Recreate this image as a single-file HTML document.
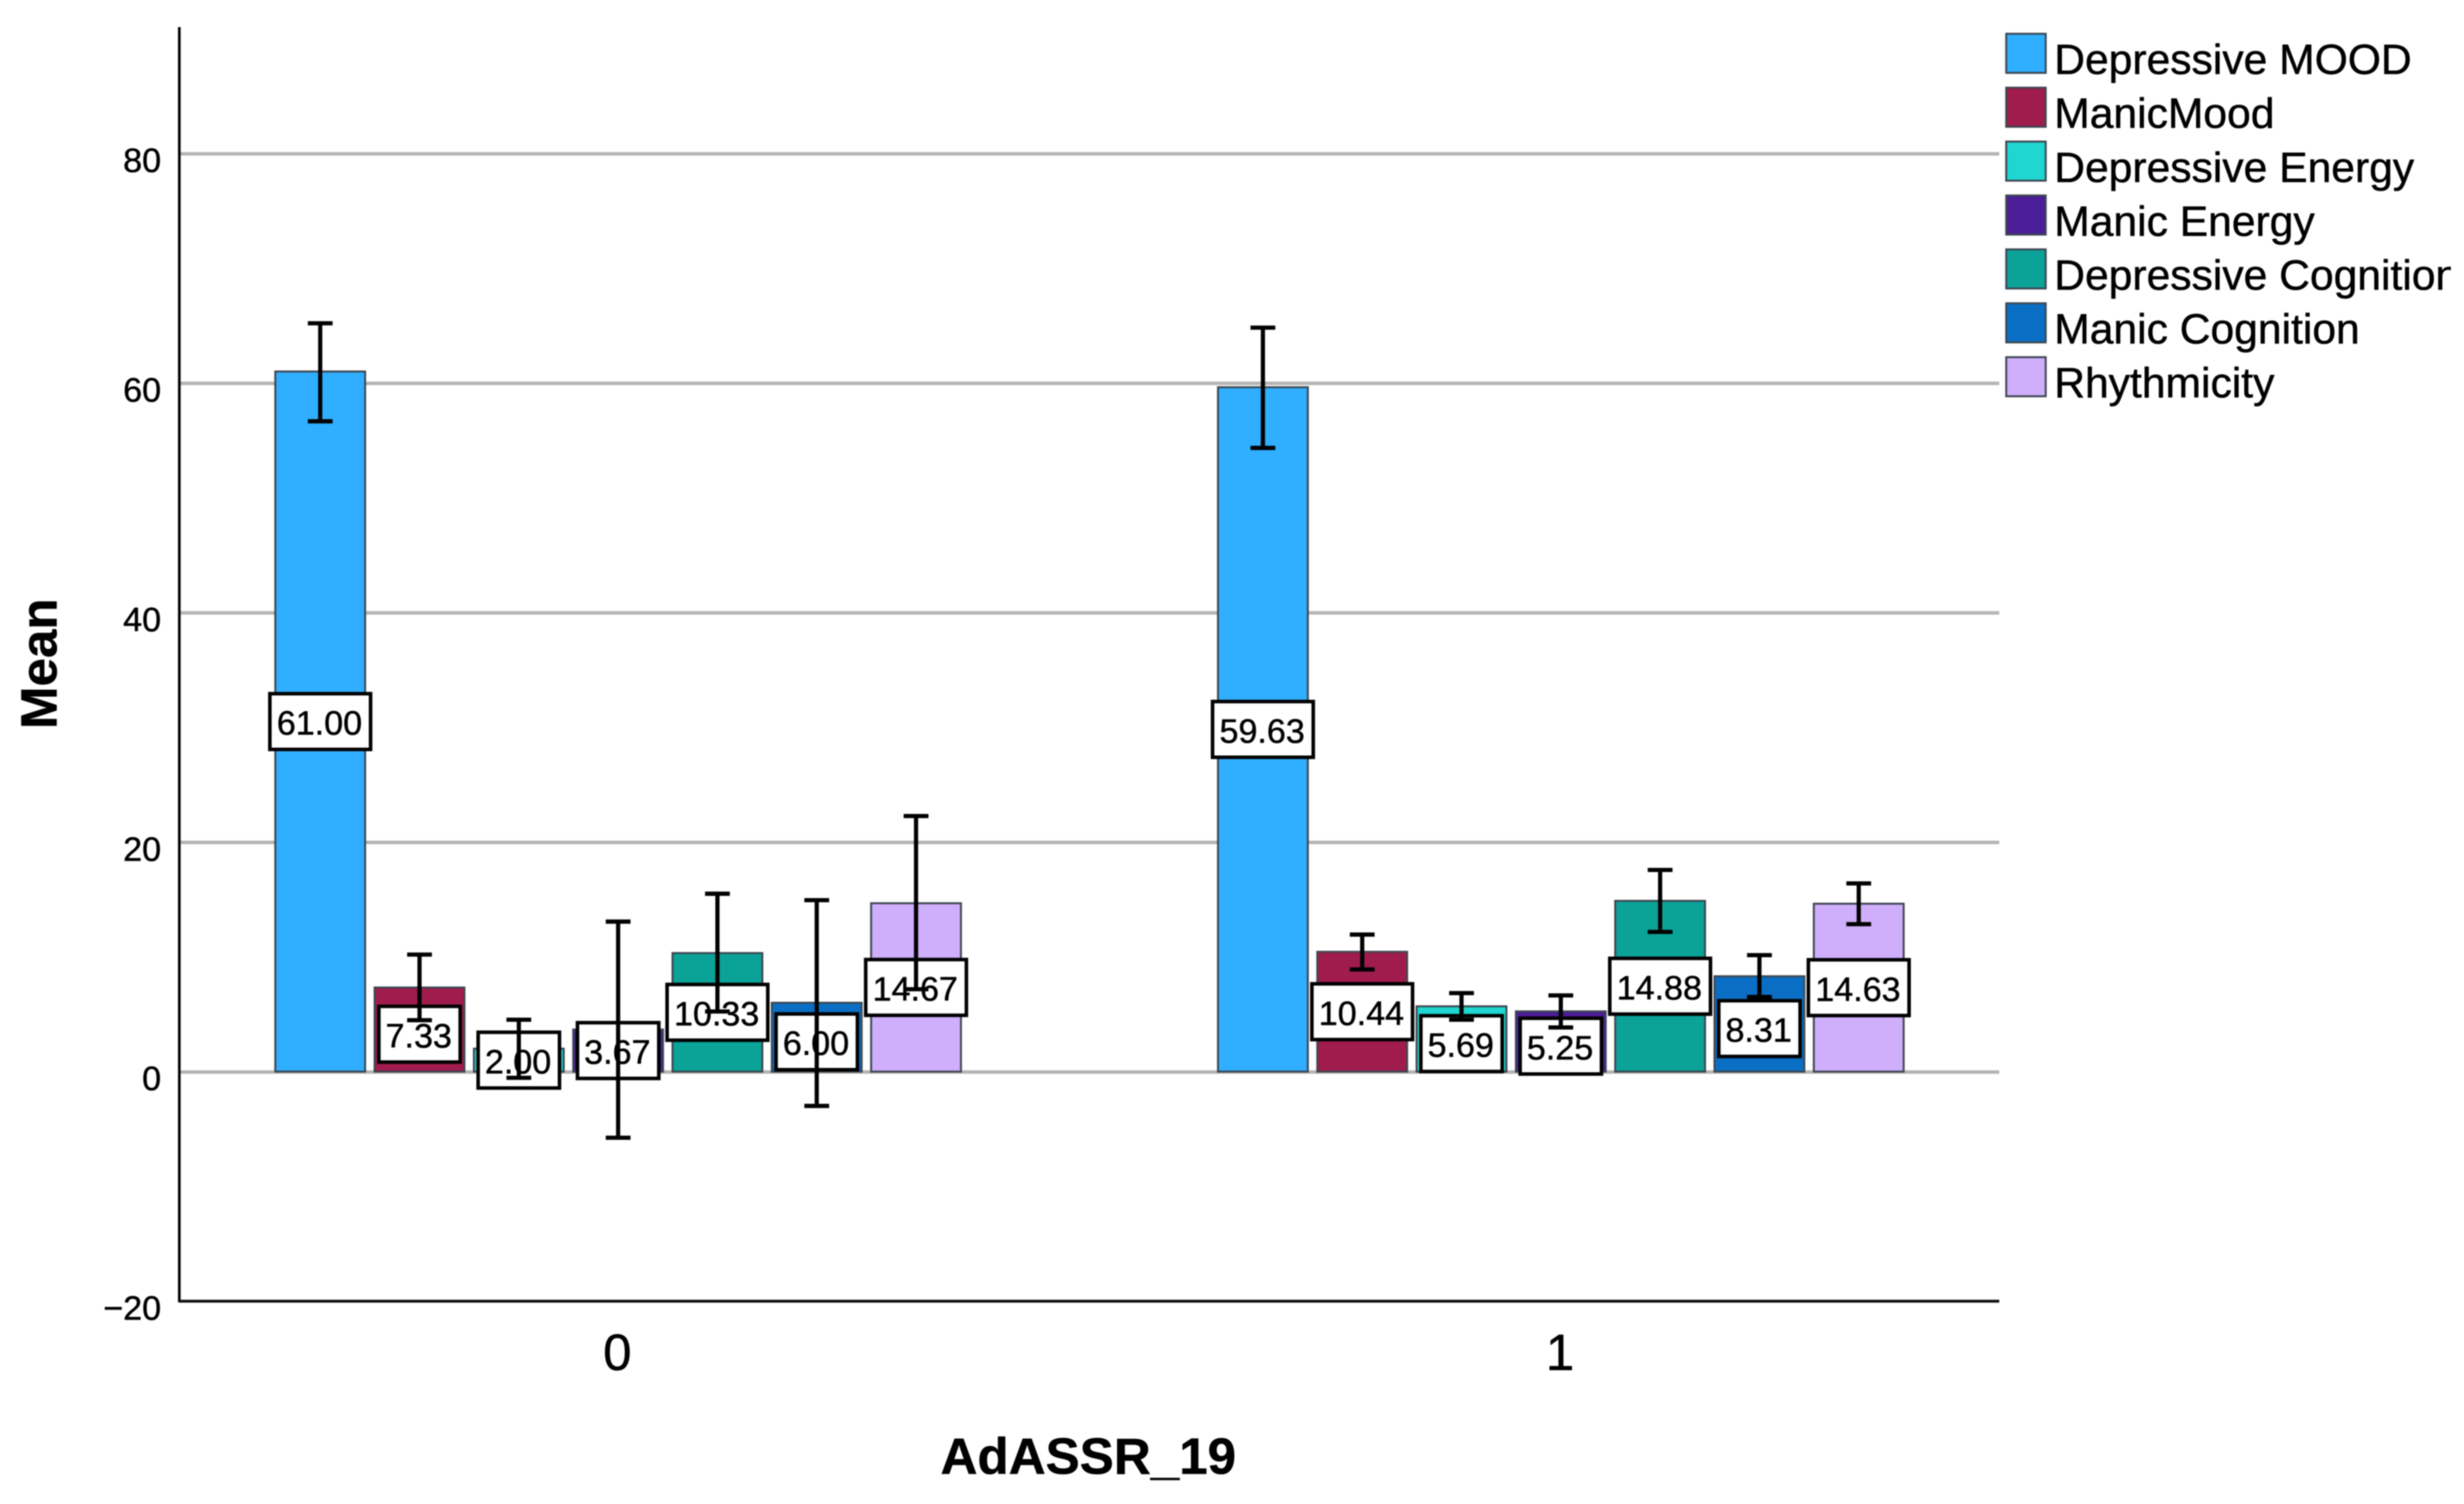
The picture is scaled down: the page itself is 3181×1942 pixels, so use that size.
<!DOCTYPE html>
<html lang="en">
<head>
<meta charset="utf-8">
<title>Mean by AdASSR_19</title>
<style>
html,body{margin:0;padding:0;background:#fff;}
svg{display:block;filter:blur(0.8px);font-family:"Liberation Sans",Arial,sans-serif;}
text{stroke:#000;stroke-width:0.6px;}
</style>
</head>
<body>
<svg id="chart" xmlns="http://www.w3.org/2000/svg" width="3181" height="1942" viewBox="0 0 3181 1942">
  <defs>
    <clipPath id="legend-clip"><rect x="2580" y="0" width="584" height="600"/></clipPath>
  </defs>
  <rect x="0" y="0" width="3181" height="1942" fill="#ffffff"/>
  <g id="grid"></g>
  <g id="bars"></g>
  <g id="labels"></g>
  <g id="errors"></g>
  <g id="axes"></g>
  <g id="legend" clip-path="url(#legend-clip)"></g>
</svg>
<script>
const categories = ['0', '1'];
const seriesNames = ['Depressive MOOD', 'ManicMood', 'Depressive Energy', 'Manic Energy', 'Depressive Cognition', 'Manic Cognition', 'Rhythmicity'];
const seriesColors = ['#30aeff', '#a01c4c', '#1fd6d0', '#4b1d96', '#0ba298', '#0a6fc4', '#cfaefb'];
const yTicks = [-20, 0, 20, 40, 60, 80];

const meansGroup0 = [61.00, 7.33, 2.00, 3.67, 10.33, 6.00, 14.67];
const upperGroup0 = [65.2, 10.2, 4.52, 13.07, 15.5, 14.94, 22.27];
const lowerGroup0 = [56.66, 4.48, -0.54, -5.76, 5.24, -2.99, 7.18];

const meansGroup1 = [59.63, 10.44, 5.69, 5.25, 14.88, 8.31, 14.63];
const upperGroup1 = [64.82, 11.94, 6.84, 6.64, 17.57, 10.15, 16.4];
const lowerGroup1 = [54.34, 8.9, 4.52, 3.85, 12.17, 6.5, 12.85];

const allMeans = [meansGroup0, meansGroup1];
const allUpper = [upperGroup0, upperGroup1];
const allLower = [lowerGroup0, lowerGroup1];

const NS = 'http://www.w3.org/2000/svg';
const plotLeft = 231.5, plotRight = 2581, plotTop = 35;
const zeroY = 1383.7, pxPerUnit = 14.82;
const groupCenters = [798, 2015];
const barStep = 128.2, barWidth = 116;

function yScale(v) { return zeroY - v * pxPerUnit; }
function xBar(group, i) { return groupCenters[group] + (i - (seriesNames.length - 1) / 2) * barStep; }

function make(parent, tag, attrs, text) {
  const el = document.createElementNS(NS, tag);
  for (const k in attrs) el.setAttribute(k, attrs[k]);
  if (text !== undefined) el.textContent = text;
  parent.appendChild(el);
  return el;
}

const gridG = document.getElementById('grid');
const barsG = document.getElementById('bars');
const labelsG = document.getElementById('labels');
const errorsG = document.getElementById('errors');
const axesG = document.getElementById('axes');
const legendG = document.getElementById('legend');

// gridlines and y tick labels
yTicks.forEach(function (t) {
  if (t !== -20) {
    const line = make(gridG, 'line', {x1: plotLeft, x2: plotRight, y1: yScale(t) + 0.5, y2: yScale(t) + 0.5, stroke: '#b4b4b4', 'stroke-width': 4.5});
    
    
  }
  const label = make(axesG, 'text', {x: 208, y: yScale(t) + 24, 'text-anchor': 'end', 'font-size': 44, fill: '#000'}, t < 0 ? '\u2212' + Math.abs(t) : String(t));
  
  
});

// bars, labels, error bars
categories.forEach(function (cat, g) {
  allMeans[g].forEach(function (v, i) {
    const cx = xBar(g, i);
    const top = yScale(v), base = yScale(0);

    const bar = make(barsG, 'rect', {x: cx - barWidth / 2, y: top, width: barWidth, height: base - top, fill: seriesColors[i], stroke: '#3c4650', 'stroke-width': 2.5});
    
    

    const text = v.toFixed(2);
    const boxW = text.length > 4 ? 130 : 105;
    const boxH = 72;
    const nudge = (v >= 5 && v < 10) ? 6 : 0;
    const cy = yScale(v / 2) + nudge;

    const box = make(labelsG, 'rect', {x: cx - boxW / 2, y: cy - boxH / 2, width: boxW, height: boxH, fill: '#fff', stroke: '#000', 'stroke-width': 4.6});
    
    
    const lbl = make(labelsG, 'text', {x: cx - 1, y: cy + 17, 'text-anchor': 'middle', 'font-size': 44, fill: '#000'}, text);
    
    

    const hi = yScale(allUpper[g][i]), lo = yScale(allLower[g][i]);
    const err = make(errorsG, 'path', {d: 'M' + cx + ' ' + hi + 'V' + lo + 'M' + (cx - 16) + ' ' + hi + 'H' + (cx + 16) + 'M' + (cx - 16) + ' ' + lo + 'H' + (cx + 16), fill: 'none', stroke: '#000', 'stroke-width': 5.4});
    
    
  });

  const catLabel = make(axesG, 'text', {x: groupCenters[g] - 1, y: 1769, 'text-anchor': 'middle', 'font-size': 66, fill: '#000'}, cat);
  
  
});

// axes
const yAxis = make(axesG, 'line', {x1: plotLeft, x2: plotLeft, y1: plotTop, y2: yScale(-20) + 1.5, stroke: '#000', 'stroke-width': 3.4});


const xAxis = make(axesG, 'line', {x1: plotLeft, x2: plotRight, y1: yScale(-20), y2: yScale(-20), stroke: '#111', 'stroke-width': 3.8});



const xTitle = make(axesG, 'text', {x: 1405, y: 1903, 'text-anchor': 'middle', 'font-size': 66, 'font-weight': 'bold', fill: '#000'}, 'AdASSR_19');


const yTitle = make(axesG, 'text', {x: 0, y: 0, 'text-anchor': 'middle', 'font-size': 66, 'font-weight': 'bold', fill: '#000', transform: 'translate(73 857) rotate(-90)'}, 'Mean');



// legend
seriesNames.forEach(function (name, i) {
  const rowY = 43.6 + i * 69.6;
  const entry = make(legendG, 'g', {});
  
  
  const sw = make(entry, 'rect', {x: 2590, y: rowY, width: 51, height: 50.5, fill: seriesColors[i], stroke: '#3c4650', 'stroke-width': 2.5});
  
  
  const tx = make(entry, 'text', {x: 2652, y: rowY + 52, 'font-size': 55, fill: '#000'}, name);
  
  
});
</script>
</body>
</html>
